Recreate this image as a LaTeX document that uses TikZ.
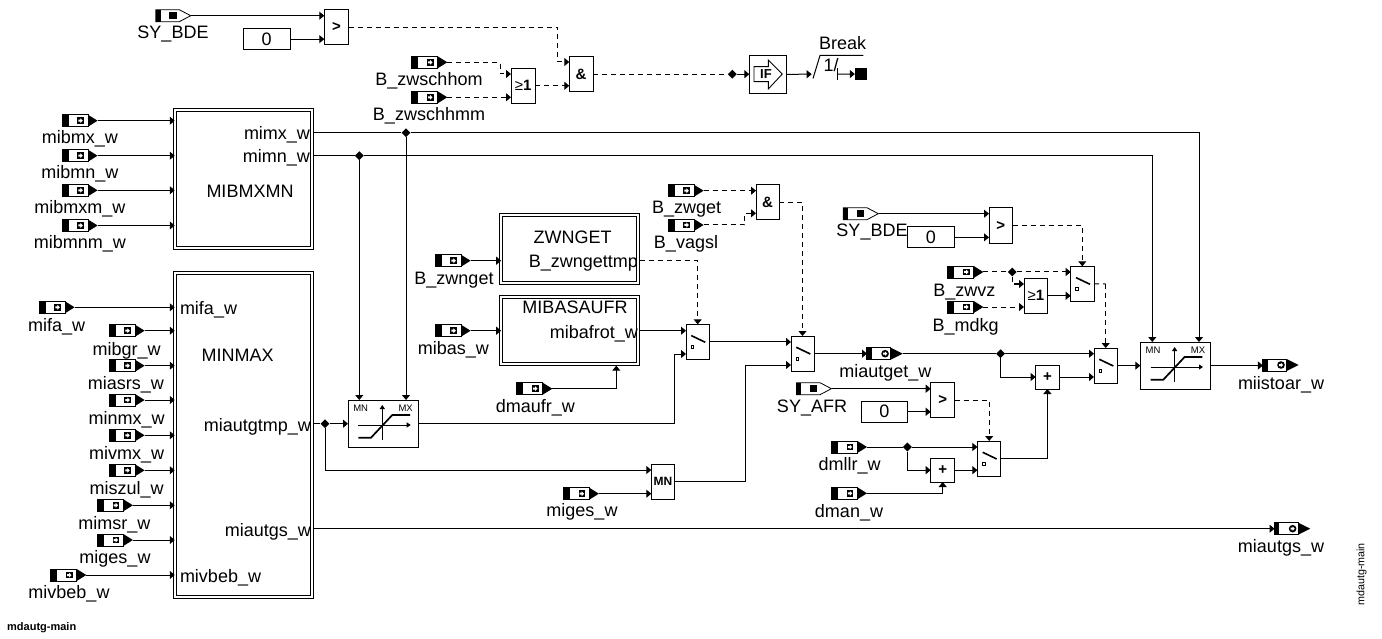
\documentclass[tikz,border=0pt]{standalone}
\usepackage{fontspec}
\setmainfont{Liberation Sans}
\usetikzlibrary{arrows.meta,shapes.geometric,calc}
\newcommand\symf{\bfseries\fontsize{15}{15}\selectfont}
\tikzset{
  wire/.style={line width=1pt,-{Triangle[length=5pt,width=8pt]}},
  plainw/.style={line width=1pt},
  dsh/.style={dash pattern=on 5pt off 4pt},
  pt/.style={minimum width=35.6pt,minimum height=12pt,inner sep=0pt,outer sep=0pt},
  lbl/.style={inner sep=0pt,outer sep=0pt,text height=13pt,text depth=4pt,yshift=-1.5pt,font=\fontsize{18}{18}\selectfont},
  blk/.style={draw,line width=1pt,inner sep=0pt,outer sep=0pt,fill=white},
  dbl/.style={draw,line width=.9pt,double,double distance=2pt,inner sep=0pt,outer sep=0pt},
  junc/.style={diamond,fill=black,inner sep=0pt,minimum width=9pt,minimum height=9pt},
  minitext/.style={inner sep=0pt,font=\fontsize{9.5}{9.5}\selectfont},
}
% input port: name, left x, y, label x, label y, label
\newcommand\inp[6]{%
  \node[pt] (#1) at ({#2+17.8},#3) {};
  \begin{scope}[shift={(#2,#3)}]
    \draw[line width=.8pt,fill=white] (0,-6) rectangle (26,6);
    \fill (0,-6) rectangle (6.5,6);
    \fill (26,-6) -- (35.6,0) -- (26,6) -- cycle;
    \fill (15.2,-3.3) rectangle (21.8,3.3);
    \fill[white] (16.4,-1) -- (18.4,-1) -- (18.4,-2.4) -- (20.8,0) -- (18.4,2.4) -- (18.4,1) -- (16.4,1) -- cycle;
  \end{scope}
  \node[lbl] (#1-l) at (#4,#5) {#6};}
% system constant port
\newcommand\sysp[6]{%
  \node[pt] (#1) at ({#2+17.5},#3) {};
  \begin{scope}[shift={(#2,#3)}]
    \draw[line width=.8pt,fill=white] (0,-6) -- (23.6,-6) -- (35,0) -- (23.6,6) -- (0,6) -- cycle;
    \fill (0,-6) rectangle (5,6);
    \fill (13.3,-3.7) rectangle (21,3.7);
  \end{scope}
  \node[lbl] (#1-l) at (#4,#5) {#6};}
% output port
\newcommand\outp[6]{%
  \node[pt] (#1) at ({#2+18},#3) {};
  \begin{scope}[shift={(#2,#3)}]
    \draw[line width=.8pt,fill=white] (0,-6) rectangle (24,6);
    \fill (0,-6) rectangle (5,6);
    \fill (24,-6) -- (36,0) -- (24,6) -- cycle;
    \fill (18.3,0) circle (3.8);
    \fill[white] (16.4,-1) -- (18.2,-1) -- (18.2,-2.2) -- (20.4,0) -- (18.2,2.2) -- (18.2,1) -- (16.4,1) -- cycle;
  \end{scope}
  \node[lbl] (#1-l) at (#4,#5) {#6};}
% block: name, x1, y1, x2, y2, text
\newcommand\blk[6]{%
  \node[blk,minimum width={(#4-#2)*1pt},minimum height={(#5-#3)*1pt}] (#1) at ({(#2+#4)/2},{(#3+#5)/2}) {#6};}
% double framed block
\newcommand\dblk[5]{%
  \node[dbl,minimum width={(#4-#2-2.9)*1pt},minimum height={(#5-#3-2.9)*1pt}] (#1) at ({(#2+#4)/2},{(#3+#5)/2}) {};}
% switch: name, x1, y1
\newcommand\swt[3]{%
  \blk{#1}{#2}{#3}{#2+23.5}{#3+35.3}{}
  \begin{scope}[shift={(#2,#3)}]
    \draw[line width=1.6pt] (5.3,11.3) -- (19.3,18);
    \draw[line width=.8pt] (4.9,21.3) rectangle (7.7,24.1);
  \end{scope}}
% limiter: name, x1, y1
\newcommand\limtr[3]{%
  \blk{#1}{#2}{#3}{#2+70.3}{#3+47}{}
  \begin{scope}[shift={(#2,#3)}]
    \draw[line width=1pt,-{Triangle[length=4pt,width=5pt]}] (34.3,40) -- (34.3,5);
    \draw[line width=1pt,-{Triangle[length=4pt,width=5pt]}] (10.3,25) -- (62.7,25);
    \draw[line width=1.7pt] (10.3,37.7) -- (23,37.7) -- (44.3,15) -- (62,15);
    \node[minitext] (#1-mn) at (12.7,8) {MN};
    \node[minitext] (#1-mx) at (57.7,8) {MX};
  \end{scope}}
\begin{document}
\begin{tikzpicture}[x=1pt,y=-1pt]
\useasboundingbox (0,0) rectangle (1382,639);

% ---- blocks
\blk{gt1}{324.3}{10}{348.7}{45}{\symf >}
\blk{k1}{243.3}{28.3}{290}{50}{\fontsize{18}{18}\selectfont 0}
\blk{or1}{511}{68.3}{535.3}{103.3}{\fontsize{15}{15}\selectfont ≥\bfseries 1}
\blk{and1}{569.3}{56.7}{593}{91.7}{\symf \&}
\blk{ifb}{749.3}{55.3}{786.7}{93.3}{}
\draw[line width=.9pt] (754,66.7) -- (768.3,66.7) -- (768.3,60) -- (782.3,74) -- (768.3,89) -- (768.3,81.7) -- (754,81.7) -- cycle;
\node[inner sep=0pt,font=\bfseries\fontsize{13}{13}\selectfont] (iftxt) at (766,74) {IF};
\node[fill=black,inner sep=0pt,minimum width=12.3pt,minimum height=12.6pt] (brk) at (861.2,74) {};
\node[lbl] (brkt) at (842.7,44) {Break};
\node[lbl] (brk1) at (831,65.7) {1/};

\dblk{mibmx}{173.3}{108.7}{313.7}{249.3}{}
\dblk{minmax}{173.3}{271.7}{313.7}{598.3}{}
\dblk{zwn}{499.7}{213.7}{639.7}{284.3}{}
\dblk{mibas}{499.7}{295.3}{639.7}{365.7}{}
\node[lbl,anchor=east] (t1) at (310,134) {mimx\_w};
\node[lbl,anchor=east] (t2) at (310,157) {mimn\_w};
\node[lbl] (t4) at (250,192) {MIBMXMN};
\node[lbl,anchor=west] (t5) at (180,308) {mifa\_w};
\node[lbl] (t6) at (237.7,355) {MINMAX};
\node[lbl,anchor=east] (t7) at (311,425.7) {miautgtmp\_w};
\node[lbl,anchor=east] (t8) at (311,530.7) {miautgs\_w};
\node[lbl,anchor=west] (t9) at (180,576) {mivbeb\_w};
\node[lbl] (t10) at (572.7,237.3) {ZWNGET};
\node[lbl,anchor=east] (t11) at (638,262) {B\_zwngettmp};
\node[lbl] (t12) at (575,307.3) {MIBASAUFR};
\node[lbl,anchor=east] (t13) at (638,332.3) {mibafrot\_w};

\limtr{lim1}{348}{400}
\limtr{lim2}{1140.3}{342}
\swt{sw1}{686}{324.3}
\swt{sw2}{791}{336}
\swt{sw3}{1094}{348}
\swt{sw4}{977.4}{441}
\swt{sw5}{1070.7}{266.3}
\blk{and2}{756}{184.7}{779.3}{220}{\symf \&}
\blk{gt2}{989}{208}{1012.7}{243.3}{\symf >}
\blk{k2}{907.3}{226.7}{954.3}{248}{\fontsize{18}{18}\selectfont 0}
\blk{or2}{1024}{278.3}{1047.7}{313.3}{\fontsize{15}{15}\selectfont ≥\bfseries 1}
\blk{minb}{651.3}{464.3}{674.7}{499.3}{\bfseries\fontsize{12}{12}\selectfont MN}
\blk{add1}{1035.6}{365}{1059.2}{389}{\symf +}
\blk{add2}{930.7}{458.3}{954.6}{482}{\symf +}
\blk{gt3}{930.7}{382.7}{954.6}{417.7}{\symf >}
\blk{k3}{861}{401.3}{907.8}{422.3}{\fontsize{18}{18}\selectfont 0}

% ---- ports
\sysp{pBDE}{155.7}{15.7}{173}{33}{SY\_BDE}
\inp{pHom}{411.7}{62.3}{429}{80}{B\_zwschhom}
\inp{pHmm}{411.7}{97.3}{429}{115}{B\_zwschhmm}
\inp{pA1}{62}{120.7}{80}{138}{mibmx\_w}
\inp{pA2}{62}{155.7}{80}{173}{mibmn\_w}
\inp{pA3}{62}{190.3}{80}{208}{mibmxm\_w}
\inp{pA4}{62}{225.5}{80}{243}{mibmnm\_w}
\inp{pB1}{39}{307.3}{56.7}{325.7}{mifa\_w}
\inp{pB2}{109}{330.7}{126.7}{349}{mibgr\_w}
\inp{pB3}{109}{365.7}{126}{383}{miasrs\_w}
\inp{pB4}{109}{400}{126.7}{418}{minmx\_w}
\inp{pB5}{109}{435.3}{126.7}{453}{mivmx\_w}
\inp{pB6}{109}{470.3}{126.7}{488}{miszul\_w}
\inp{pB7}{97.3}{505.3}{114.3}{523}{mimsr\_w}
\inp{pB8}{97.3}{540}{115}{557}{miges\_w}
\inp{pB9}{50.7}{575}{69}{592}{mivbeb\_w}
\inp{pZ}{435}{260.7}{454}{278.3}{B\_zwnget}
\inp{pM}{435}{330.7}{453.3}{348}{mibas\_w}
\inp{pD}{516.7}{388.7}{535.3}{406}{dmaufr\_w}
\inp{pG}{563.3}{493.7}{582}{510.5}{miges\_w}
\inp{pZg}{668}{190.7}{686.7}{208}{B\_zwget}
\inp{pVa}{668}{225}{686}{243}{B\_vagsl}
\sysp{pBDE2}{843.3}{213.7}{872}{231}{SY\_BDE}
\inp{pVz}{947.7}{272}{964.3}{290}{B\_zwvz}
\inp{pMd}{947.7}{307}{965.7}{325}{B\_mdkg}
\sysp{pAFR}{796.4}{388.7}{812}{406}{SY\_AFR}
\inp{pLl}{831.4}{447}{849.6}{464.3}{dmllr\_w}
\inp{pAn}{831.4}{493.3}{849}{511}{dman\_w}
\outp{oG}{866.8}{353.7}{885.3}{371}{miautget\_w}
\outp{oI}{1262.7}{365}{1281}{383}{miistoar\_w}
\outp{oS}{1274.3}{528.7}{1281}{546}{miautgs\_w}

% ---- junctions
\node[junc] (j1) at (406,132.7) {};
\node[junc] (j2) at (359.3,155.7) {};
\node[junc] (j3) at (325,423.7) {};
\node[junc] (j4) at (732.3,74.2) {};
\node[junc] (j5) at (1000.6,353.7) {};
\node[junc] (j6) at (907.4,447) {};
\node[junc] (j7) at (1012.3,272) {};

% ---- free coordinates
\coordinate (c1) at (557.7,62);
\coordinate (c2) at (500,74);
\coordinate (o-mx) at (313.7,132.7);
\coordinate (o-mn) at (313.7,155.7);
\coordinate (o-at) at (313.7,423.7);
\coordinate (o-as) at (313.7,528.7);
\coordinate (o-zw) at (639.7,260.7);
\coordinate (o-mb) at (639.7,330.7);
\coordinate (i-dm) at (616.3,365.7);
\coordinate (c3) at (674.7,354);
\coordinate (c4) at (745,365);
\coordinate (c5) at (744.3,213.3);
\coordinate (c7) at (1105.7,284);
\coordinate (c8) at (470,470);
\coordinate (c10) at (1012.3,284);
\coordinate (t-lim1mn) at (360,400);
\coordinate (t-lim1mx) at (406,400);
\coordinate (t-lim2mn) at (1152.3,342);
\coordinate (t-lim2mx) at (1199,342);
\coordinate (t-sw1) at (697.7,324.3);
\coordinate (t-sw2) at (802.5,336);
\coordinate (t-sw3) at (1105.7,348);
\coordinate (t-sw4) at (989.2,441);
\coordinate (t-sw5) at (1082.3,266.3);

% ---- connectors, top
\draw[wire] (pBDE.east) -- (pBDE.east -| gt1.west);
\draw[wire] (k1.east) -- (k1.east -| gt1.west);
\draw[wire,dsh] (gt1.east) -| (c1) -- (c1 -| and1.west);
\draw[wire,dsh] (pHom.east) -| (c2) -- (or1.west |- c2);
\draw[wire,dsh] (pHmm.east) -- (pHmm.east -| or1.west);
\draw[wire,dsh] (or1.east) -- (or1.east -| and1.west);
\draw[plainw,dsh] (and1.east) -- (j4.west);
\draw[wire] (j4.east) -- (j4.east -| ifb.west);
\coordinate (b1) at (811.7,74.2);
\coordinate (b2) at (813,78.5);
\coordinate (b3) at (820,55.5);
\coordinate (b4) at (863.3,55.5);
\coordinate (b5) at (837.7,74.2);
\draw[wire] (ifb.east) -- (b1);
\draw[plainw] (b2) -- (b3) -- (b4);
\draw[plainw] ($(b5)+(0,-6)$) -- ($(b5)+(0,6)$);
\draw[wire] (b5) -- (brk.west);

% ---- connectors, left blocks
\draw[wire] (pA1.east) -- (pA1.east -| mibmx.west);
\draw[wire] (pA2.east) -- (pA2.east -| mibmx.west);
\draw[wire] (pA3.east) -- (pA3.east -| mibmx.west);
\draw[wire] (pA4.east) -- (pA4.east -| mibmx.west);
\draw[wire] (pB1.east) -- (pB1.east -| minmax.west);
\draw[wire] (pB2.east) -- (pB2.east -| minmax.west);
\draw[wire] (pB3.east) -- (pB3.east -| minmax.west);
\draw[wire] (pB4.east) -- (pB4.east -| minmax.west);
\draw[wire] (pB5.east) -- (pB5.east -| minmax.west);
\draw[wire] (pB6.east) -- (pB6.east -| minmax.west);
\draw[wire] (pB7.east) -- (pB7.east -| minmax.west);
\draw[wire] (pB8.east) -- (pB8.east -| minmax.west);
\draw[wire] (pB9.east) -- (pB9.east -| minmax.west);

\draw[plainw] (o-mx) -- (j1.west);
\draw[wire] (j1.east) -| (t-lim2mx);
\draw[plainw] (o-mn) -- (j2.west);
\draw[wire] (j2.east) -| (t-lim2mn);
\draw[wire] (j1.south) -- (t-lim1mx);
\draw[wire] (j2.south) -- (j2.south |- t-lim1mn);
\draw[plainw] (o-at) -- (j3.west);
\draw[wire] (j3.east) -- (lim1.west |- j3);
\draw[wire] (j3.south) |- (c8 -| minb.west);
\draw[wire] (lim1.east) -| (c3) -- (c3 -| sw1.west);
\draw[wire] (o-as) -- (o-as -| oS.west);

% ---- middle
\draw[wire] (pZ.east) -- (pZ.east -| zwn.west);
\draw[wire] (pM.east) -- (pM.east -| mibas.west);
\draw[wire] (pD.east) -| (i-dm);
\draw[wire,dsh] (o-zw) -| (t-sw1);
\draw[wire] (o-mb) -- (o-mb -| sw1.west);
\draw[wire] (pG.east) -- (pG.east -| minb.west);
\draw[wire] (minb.east) -| (c4) -- (c4 -| sw2.west);
\draw[wire] (sw1.east) -- (sw1.east -| sw2.west);
\draw[wire,dsh] (pZg.east) -- (pZg.east -| and2.west);
\draw[wire,dsh] (pVa.east) -| (c5) -- (c5 -| and2.west);
\draw[wire,dsh] (and2.east) -| (t-sw2);
\draw[wire] (sw2.east) -- (sw2.east -| oG.west);

% ---- right
\draw[plainw] (oG.east) -- (j5.west);
\draw[wire] (j5.east) -- (j5.east -| sw3.west);
\draw[wire] (j5.south) |- (add1.west);
\draw[wire] (add1.east) -- (add1.east -| sw3.west);
\draw[wire] (sw3.east) -- (sw3.east -| lim2.west);
\draw[wire] (lim2.east) -- (lim2.east -| oI.west);
\draw[wire] (pBDE2.east) -- (pBDE2.east -| gt2.west);
\draw[wire] (k2.east) -- (k2.east -| gt2.west);
\draw[wire,dsh] (gt2.east) -| (t-sw5);
\draw[plainw,dsh] (pVz.east) -- (j7.west);
\draw[wire,dsh] (j7.east) -- (j7.east -| sw5.west);
\draw[wire,dsh] (j7.south) |- (c10 -| or2.west);
\draw[wire,dsh] (pMd.east) -- (pMd.east -| or2.west);
\draw[wire] (or2.east) -- (or2.east -| sw5.west);
\draw[plainw,dsh] (sw5.east) -- (c7);
\draw[wire,dsh] (c7) -- (t-sw3);
\draw[wire] (pAFR.east) -- (pAFR.east -| gt3.west);
\draw[wire] (k3.east) -- (k3.east -| gt3.west);
\draw[wire,dsh] (gt3.east) -| (t-sw4);
\draw[plainw] (pLl.east) -- (j6.west);
\draw[wire] (j6.east) -- (j6.east -| sw4.west);
\draw[wire] (j6.south) |- (add2.west);
\draw[wire] (add2.east) -- (add2.east -| sw4.west);
\draw[wire] (pAn.east) -| (add2.south);
\draw[wire] (sw4.east) -| (add1.south);

% ---- captions
\node[inner sep=0pt,anchor=west,font=\bfseries\fontsize{11}{11}\selectfont] (cap) at (7,628) {mdautg-main};
\node[inner sep=0pt,rotate=90,font=\fontsize{10.7}{10.7}\selectfont] (cap2) at (1361.7,574.4) {mdautg-main};
\end{tikzpicture}
\end{document}
